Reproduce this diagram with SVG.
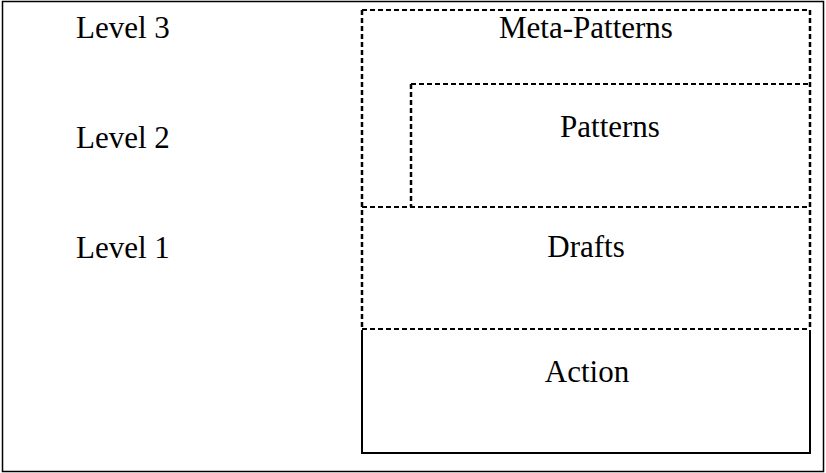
<svg xmlns="http://www.w3.org/2000/svg" width="826" height="473" viewBox="0 0 826 473">
<style>
.t{font-family:"Liberation Serif","Times New Roman",serif;font-size:31px;fill:#000}
.c{text-anchor:middle}
.d{fill:none;stroke:#000;stroke-width:2;stroke-dasharray:5 3}
.dv{fill:none;stroke:#000;stroke-width:2.5;stroke-dasharray:5 3}
.s{fill:none;stroke:#000;stroke-width:2}
</style>
<rect x="0" y="0" width="826" height="473" fill="#fff"/>
<rect id="frame" x="2.5" y="1.5" width="821" height="470" fill="none" stroke="#000" stroke-width="1.5"/>
<g id="labels">
<text class="t" x="76" y="38">Level 3</text>
<text class="t" x="76" y="148">Level 2</text>
<text class="t" x="76" y="258">Level 1</text>
</g>
<g id="meta-patterns">
<path class="d" d="M362,10 H810"/>
<path class="dv" d="M362,10 V329 M810,10 V329"/>
<text class="t c" x="586" y="38">Meta-Patterns</text>
</g>
<g id="patterns">
<path class="d" d="M411,84 H810"/>
<path class="dv" d="M411,84 V207"/>
<text class="t c" x="610" y="137">Patterns</text>
</g>
<g id="drafts">
<path class="d" d="M362,207 H810 M362,329 H810"/>
<text class="t c" x="586" y="257">Drafts</text>
</g>
<g id="action">
<path class="s" d="M362,330 V453 H810 V330"/>
<text class="t c" x="587" y="382">Action</text>
</g>
</svg>
